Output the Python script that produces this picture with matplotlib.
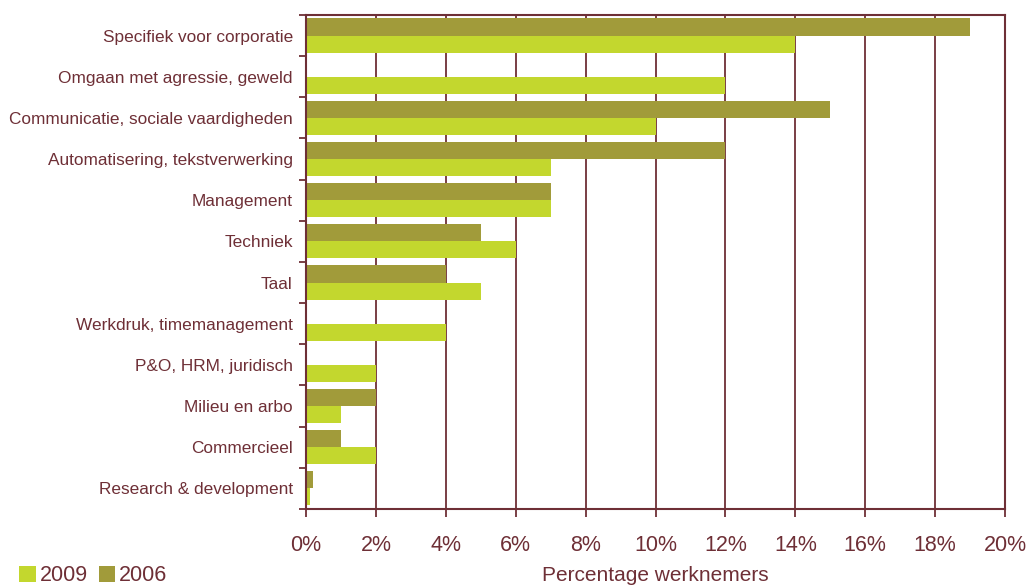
import numpy as np
import matplotlib.pyplot as plt
from matplotlib.ticker import FixedLocator, PercentFormatter

plt.rcParams["font.family"] = ["Liberation Sans", "DejaVu Sans"]

categories = [
    "Specifiek voor corporatie",
    "Omgaan met agressie, geweld",
    "Communicatie, sociale vaardigheden",
    "Automatisering, tekstverwerking",
    "Management",
    "Techniek",
    "Taal",
    "Werkdruk, timemanagement",
    "P&O, HRM, juridisch",
    "Milieu en arbo",
    "Commercieel",
    "Research & development",
]
pct_2009 = [14, 12, 10, 7, 7, 6, 5, 4, 2, 1, 2, 0.1]
pct_2006 = [19, 0, 15, 12, 7, 5, 4, 0, 0, 2, 1, 0.2]

c2009 = "#c3d72e"
c2006 = "#a19b3a"
maroon = "#6e2f36"

fig = plt.figure(figsize=(10.29, 5.88), dpi=100)
ax = fig.add_axes([0.2974, 0.1344, 0.6793, 0.8401])

y = np.arange(len(categories))
h = 0.415
ax.barh(y - h / 2, pct_2006, height=h, color=c2006, label="2006")
ax.barh(y + h / 2, pct_2009, height=h, color=c2009, label="2009")

ax.set_ylim(len(categories) - 0.5, -0.5)
ax.set_xlim(0, 20)
ax.set_xticks(np.arange(0, 21, 2))
ax.xaxis.set_major_formatter(PercentFormatter(decimals=0))
ax.set_yticks(y)
ax.set_yticklabels(categories)
ax.yaxis.set_minor_locator(FixedLocator(np.arange(-0.5, len(categories), 1)))
ax.tick_params(axis="y", which="major", length=0, pad=9.5, labelsize=12.4, labelcolor=maroon)
ax.tick_params(axis="y", which="minor", length=5, width=1.3, color=maroon, direction="out")
ax.tick_params(axis="x", length=6, width=1.3, color=maroon, labelsize=15.5,
               labelcolor=maroon, pad=13)

ax.grid(axis="x", color=maroon, linewidth=1.3)
ax.set_axisbelow(True)
for s in ax.spines.values():
    s.set_color(maroon)
    s.set_linewidth(1.5)

ax.set_xlabel("Percentage werknemers", color=maroon, fontsize=15, labelpad=7)

handles, labels = ax.get_legend_handles_labels()
fig.legend(handles[::-1], labels[::-1], loc="lower left", bbox_to_anchor=(0.0, -0.03),
           ncol=2, frameon=False, fontsize=15.5, labelcolor=maroon,
           handlelength=0.75, handleheight=0.75, handletextpad=0.2, columnspacing=0.5)

fig.savefig("out.png", dpi=100)
